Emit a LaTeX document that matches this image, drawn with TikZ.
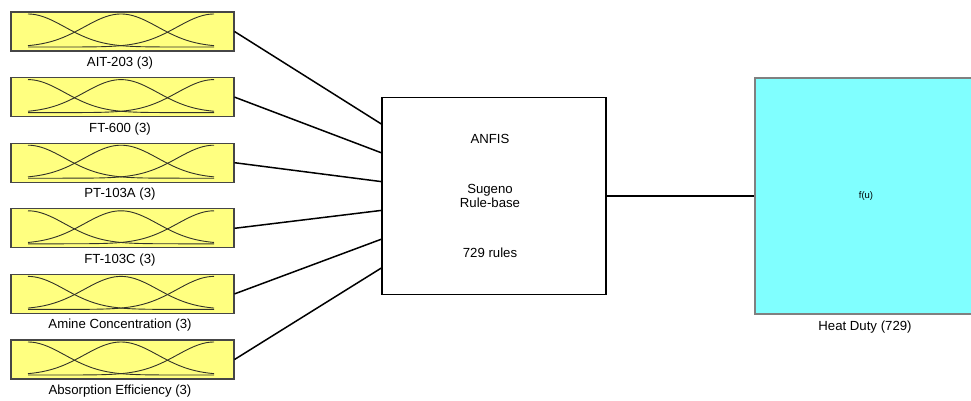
\documentclass[tikz,border=0pt]{standalone}
\usepackage{fontspec}
\setmainfont{Liberation Sans}
\definecolor{mfyellow}{RGB}{255,255,128}
\definecolor{outcyan}{RGB}{128,255,255}
\definecolor{mfborder}{RGB}{70,70,70}
\definecolor{mfline}{RGB}{50,50,40}
\begin{document}
\begin{tikzpicture}[x=1pt,y=-1pt,
  inbox/.style={draw=mfborder,fill=mfyellow,line width=1.2pt,minimum width=223pt,minimum height=39pt,inner sep=0pt},
  lbl/.style={font=\fontsize{13.2}{15}\selectfont,inner sep=0pt},
  conn/.style={line width=1.5pt,black},
  mf/.style={mfline,line width=0.9pt}]
\useasboundingbox (0,0) rectangle (971,400);
% input boxes
\foreach \i/\t/\name in {1/12/AIT-203 (3),2/77.6/FT-600 (3),3/143.2/PT-103A (3),4/208.8/FT-103C (3),5/274.4/Amine Concentration (3),6/340/Absorption Efficiency (3)}{
  \node[inbox] (in\i) at (122.4,\t+19.5) {};
  \draw[mf,domain=28:214,samples=70,smooth] plot (\x,{\t+35-33*exp(-0.5*((\x-28)/36.8)^2)});
  \draw[mf,domain=28:214,samples=70,smooth] plot (\x,{\t+35-33*exp(-0.5*((\x-121)/36.8)^2)});
  \draw[mf,domain=28:214,samples=70,smooth] plot (\x,{\t+35-33*exp(-0.5*((\x-214)/36.8)^2)});
  \node[lbl] (lab\i) at (120,\t+51) {\name};
}
% central box
\node[draw=black,line width=1.3pt,minimum width=224pt,minimum height=197pt,inner sep=0pt] (anfis) at (494,196) {};
\node[lbl] (t1) at (490,139) {ANFIS};
\node[lbl,align=center] (t2) at (490,196) {Sugeno\\[-1pt]Rule-base};
\node[lbl] (t3) at (490,253) {729 rules};
% output box
\node[draw=gray,fill=outcyan,line width=1.3pt,minimum width=222pt,minimum height=236pt,inner sep=0pt] (out) at (866,196) {};
\node[font=\fontsize{9.5}{11}\selectfont,inner sep=0pt] (fu) at (866,196) {f(u)};
\node[lbl] (outlab) at (865,327) {Heat Duty (729)};
% connectors
\draw[conn] (in1.east) -- ([yshift=72pt]anfis.west);
\draw[conn] (in2.east) -- ([yshift=43.2pt]anfis.west);
\draw[conn] (in3.east) -- ([yshift=14.4pt]anfis.west);
\draw[conn] (in4.east) -- ([yshift=-14.4pt]anfis.west);
\draw[conn] (in5.east) -- ([yshift=-43.2pt]anfis.west);
\draw[conn] (in6.east) -- ([yshift=-72pt]anfis.west);
\draw[conn] (anfis.east) -- (out.west);
\end{tikzpicture}
\end{document}
